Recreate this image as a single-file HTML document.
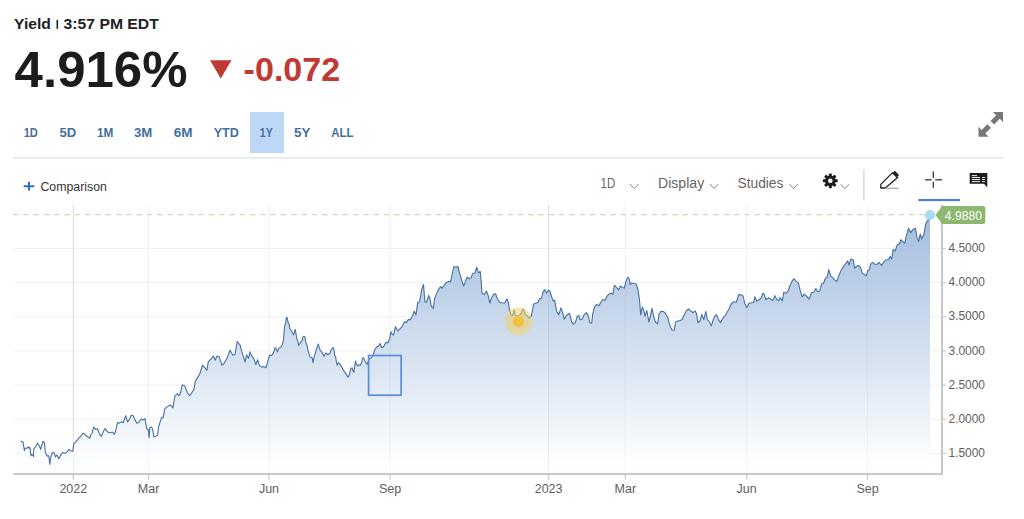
<!DOCTYPE html>
<html><head><meta charset="utf-8"><title>Yield chart</title>
<style>
html,body{margin:0;padding:0;background:#fff;width:1024px;height:519px;overflow:hidden}
svg{display:block;font-family:"Liberation Sans", sans-serif}
</style></head><body>
<svg width="1024" height="519" viewBox="0 0 1024 519">
<text x="14.1" y="28.8" font-size="14.5" font-weight="bold" fill="#222" textLength="36.8" lengthAdjust="spacingAndGlyphs">Yield</text>
<rect x="56.5" y="19.9" width="1.6" height="8.9" fill="#222"/>
<text x="63.6" y="28.8" font-size="14.5" font-weight="bold" fill="#222" textLength="95.2" lengthAdjust="spacingAndGlyphs">3:57 PM EDT</text>
<text x="14.6" y="86.9" font-size="49.5" font-weight="bold" fill="#1c1c1c" textLength="173" lengthAdjust="spacingAndGlyphs">4.916%</text>
<polygon points="210,60.3 231.5,60.3 220.75,78.6" fill="#bf3a33"/>
<text x="243.6" y="80.8" font-size="33" font-weight="bold" fill="#bf3a33" textLength="96.6" lengthAdjust="spacingAndGlyphs">-0.072</text>
<rect x="250" y="112" width="34" height="41" fill="#bdd7f6"/>
<text x="23.7" y="137" font-size="12" font-weight="bold" fill="#44709f" textLength="14.2" lengthAdjust="spacingAndGlyphs">1D</text>
<text x="59.4" y="137" font-size="12" font-weight="bold" fill="#44709f" textLength="16.8" lengthAdjust="spacingAndGlyphs">5D</text>
<text x="96.9" y="137" font-size="12" font-weight="bold" fill="#44709f" textLength="16.4" lengthAdjust="spacingAndGlyphs">1M</text>
<text x="134" y="137" font-size="12" font-weight="bold" fill="#44709f" textLength="18.3" lengthAdjust="spacingAndGlyphs">3M</text>
<text x="173.8" y="137" font-size="12" font-weight="bold" fill="#44709f" textLength="18.8" lengthAdjust="spacingAndGlyphs">6M</text>
<text x="213.7" y="137" font-size="12" font-weight="bold" fill="#44709f" textLength="25.3" lengthAdjust="spacingAndGlyphs">YTD</text>
<text x="259.8" y="137" font-size="12" font-weight="bold" fill="#44709f" textLength="12.9" lengthAdjust="spacingAndGlyphs">1Y</text>
<text x="294" y="137" font-size="12" font-weight="bold" fill="#44709f" textLength="16.5" lengthAdjust="spacingAndGlyphs">5Y</text>
<text x="331.2" y="137" font-size="12" font-weight="bold" fill="#44709f" textLength="22.3" lengthAdjust="spacingAndGlyphs">ALL</text>
<g fill="#777"><polygon points="1003,112 993,112 996.2,115.2 990.5,120.9 994.1,124.5 999.8,118.8 1003,122"/><polygon points="978.5,136.7 988.5,136.7 985.3,133.5 991,127.8 987.4,124.2 981.7,129.9 978.5,126.7"/></g>
<rect x="13" y="157" width="990.3" height="1.6" fill="#e8e8e8"/>
<rect x="23.7" y="185.3" width="10.6" height="1.9" fill="#2f66c2"/>
<rect x="28.05" y="181.8" width="1.9" height="8.7" fill="#2f66c2"/>
<text x="40.4" y="190.5" font-size="12.5" fill="#333" textLength="66.5" lengthAdjust="spacingAndGlyphs">Comparison</text>
<text x="600.6" y="187.7" font-size="14" fill="#666" textLength="14.6" lengthAdjust="spacingAndGlyphs">1D</text>
<text x="658" y="187.7" font-size="14" fill="#666" textLength="46.2" lengthAdjust="spacingAndGlyphs">Display</text>
<text x="737.5" y="187.7" font-size="14" fill="#666" textLength="45.9" lengthAdjust="spacingAndGlyphs">Studies</text>
<polyline points="630,184 634.3,188.6 638.6,184" fill="none" stroke="#8a8a8a" stroke-width="1"/>
<polyline points="710,184 714.1,188.6 718.3,184" fill="none" stroke="#8a8a8a" stroke-width="1"/>
<polyline points="789.3,184 793.6,188.6 798,184" fill="none" stroke="#8a8a8a" stroke-width="1"/>
<polyline points="840.6,184.2 844.8,188.8 849,184.2" fill="none" stroke="#8a8a8a" stroke-width="1"/>
<g fill="#1e1e1e"><rect x="828.80" y="173.40" width="3" height="4" rx="0.7" transform="rotate(0 830.3 180.8)"/><rect x="828.80" y="173.40" width="3" height="4" rx="0.7" transform="rotate(45 830.3 180.8)"/><rect x="828.80" y="173.40" width="3" height="4" rx="0.7" transform="rotate(90 830.3 180.8)"/><rect x="828.80" y="173.40" width="3" height="4" rx="0.7" transform="rotate(135 830.3 180.8)"/><rect x="828.80" y="173.40" width="3" height="4" rx="0.7" transform="rotate(180 830.3 180.8)"/><rect x="828.80" y="173.40" width="3" height="4" rx="0.7" transform="rotate(225 830.3 180.8)"/><rect x="828.80" y="173.40" width="3" height="4" rx="0.7" transform="rotate(270 830.3 180.8)"/><rect x="828.80" y="173.40" width="3" height="4" rx="0.7" transform="rotate(315 830.3 180.8)"/><circle cx="830.3" cy="180.8" r="5.4"/></g><circle cx="830.3" cy="180.8" r="2.3" fill="#fff"/>
<rect x="863.3" y="169.3" width="1.2" height="31.2" fill="#d0d0d0"/>
<path d="M880.8 184.4 L892.6 172.6 L897.6 177.6 L885.3 188 L880.8 188 Z" fill="none" stroke="#222" stroke-width="1.3" stroke-linejoin="round"/><path d="M892.3 173.3 L894.8 170.8 L899.1 175.1 L896.6 177.6 Z" fill="#222"/><rect x="885" y="187.7" width="13.5" height="1.3" fill="#aaa"/>
<g fill="#2a2a2a"><rect x="925.1" y="179.2" width="6.5" height="1.2"/><rect x="935.2" y="179.2" width="6.9" height="1.2"/><rect x="932.7" y="171.4" width="1.2" height="6.4"/><rect x="932.7" y="181.6" width="1.2" height="6.3"/></g>
<rect x="918.4" y="199" width="41.6" height="2.1" fill="#4a7fd4"/>
<path d="M969.7 172.9 H987.3 V187.6 L984 183.8 H969.7 Z" fill="#1e1e1e"/><g fill="#fff" fill-opacity="0.92"><rect x="971.8" y="175.1" width="5.2" height="1"/><rect x="971.8" y="177" width="8.3" height="1"/><rect x="982.1" y="177" width="2.8" height="1"/><rect x="971.8" y="179" width="8.3" height="1"/><rect x="982.1" y="179" width="2.8" height="1"/><rect x="971.8" y="181.1" width="8.3" height="1"/><rect x="982.1" y="181.1" width="2.8" height="1"/></g>
<rect x="14" y="247.9" width="927.6" height="1" fill="#f0f0f0"/>
<rect x="14" y="282.1" width="927.6" height="1" fill="#f0f0f0"/>
<rect x="14" y="316.2" width="927.6" height="1" fill="#f0f0f0"/>
<rect x="14" y="350.4" width="927.6" height="1" fill="#f0f0f0"/>
<rect x="14" y="384.6" width="927.6" height="1" fill="#f0f0f0"/>
<rect x="14" y="418.8" width="927.6" height="1" fill="#f0f0f0"/>
<rect x="14" y="452.9" width="927.6" height="1" fill="#f0f0f0"/>
<rect x="72.8" y="205" width="1" height="269" fill="#dcdcdc"/>
<rect x="148.1" y="205" width="1" height="269" fill="#f0f0f0"/>
<rect x="268.5" y="205" width="1" height="269" fill="#f0f0f0"/>
<rect x="389.5" y="205" width="1" height="269" fill="#f0f0f0"/>
<rect x="548.1" y="205" width="1" height="269" fill="#dcdcdc"/>
<rect x="624.8" y="205" width="1" height="269" fill="#f0f0f0"/>
<rect x="746.2" y="205" width="1" height="269" fill="#f0f0f0"/>
<rect x="867.0" y="205" width="1" height="269" fill="#f0f0f0"/>
<defs><linearGradient id="g" gradientUnits="userSpaceOnUse" x1="0" y1="214" x2="0" y2="462"><stop offset="0" stop-color="rgb(162,188,222)"/><stop offset="1" stop-color="rgb(253,254,255)"/></linearGradient></defs>
<path d="M20.6 440.9 L23.1 442.3 L24.4 450.7 L25 448.2 L26.9 448.2 L28.1 446.9 L29 448.2 L29.8 447.3 L31 455.7 L31.9 454.4 L33.5 456.3 L33.8 448.8 L35.7 446.3 L37.5 443.2 L39.4 446.3 L40.7 449.4 L42.8 441.3 L44.4 442.5 L45.3 452.6 L46.3 454.4 L47.5 456.3 L48.8 455.7 L49.8 464.4 L50.7 457.6 L52.5 452.3 L54.4 453.2 L55.3 456.9 L56.9 455.1 L58.8 458.8 L60.7 455.1 L62.6 452.6 L65.1 453.2 L66.9 452.3 L68.8 449.4 L70.7 450.7 L72.8 451.3 L73.8 443.8 L76.3 441.3 L78.2 438.8 L80.7 436.3 L83.2 433.2 L84.5 434 L87 436.3 L89.9 438.2 L90.7 435 L92 433.2 L93.8 427 L95.6 429.4 L97.5 428.8 L99.4 433.8 L101.3 436.3 L103.1 432 L105 428.6 L106.9 431.3 L108.8 432.8 L110.7 432.8 L112.5 432 L114.4 434.4 L115.7 430.7 L117.5 422.6 L119.4 423.2 L121.3 421.6 L123.2 422.8 L125.7 415.7 L127.5 421.9 L129.4 419.4 L131.3 415.3 L133.2 415.7 L135.1 420.1 L136.9 423.2 L138.8 422.3 L141.3 419.1 L143.2 420.1 L145.1 418.8 L146.6 428.8 L148.2 429.4 L149.1 437.6 L149.8 427.6 L151.3 427 L152.6 428.8 L153.8 437 L155.7 436.3 L157.6 435.1 L158.6 427 L160.1 421.9 L161.6 417.6 L163.2 417.6 L164.8 408.8 L167 406.9 L168.5 406 L170.8 405.1 L172.9 408 L174.8 396.4 L177.3 393.5 L178.7 395.7 L180.2 394.2 L182.3 384.9 L184.5 385.6 L187.4 392.8 L189.5 395.7 L191.7 392.8 L193.9 389.6 L195.3 381.2 L197.5 377.6 L199.7 374 L202.5 365.3 L204.7 367.5 L206.9 370.4 L208.3 361.7 L211.2 358.8 L213.4 356 L215.3 360.3 L217 356 L219.2 356.7 L222 365.3 L224.2 363.2 L227.1 358.1 L230 350.2 L232.9 355.2 L235 354.5 L237.2 341.5 L240.1 345.1 L241.4 350.4 L243.2 355.9 L245.1 362 L246.5 354.8 L248.4 358.4 L250.1 351.9 L251.6 355.9 L253.7 358.4 L255.9 364.6 L257.6 359.8 L259.5 365.6 L261.7 367.1 L263.8 366.6 L266 367.8 L267.7 361.3 L269.6 355.1 L271.8 355.5 L273.9 351.9 L275 347.6 L276 348.4 L277.4 351.9 L278.6 348.4 L279.8 347.6 L281.1 347.1 L282.4 344.1 L283.5 339.8 L284.1 332 L284.7 325.4 L285.6 324.1 L286.3 317.6 L287.1 317.6 L288 322 L289 323.7 L289.9 328.9 L291 330.2 L292.3 332.8 L293.4 334.7 L294.1 333.2 L295.1 329.3 L296 333.7 L296.9 338.9 L297.7 340.6 L298.6 345.4 L299.7 343.7 L301 341.9 L302.1 340.6 L302.8 337.2 L303.8 336.3 L304.9 336.7 L305.8 342.4 L306.9 344.5 L308 350.2 L309 353.6 L310 356.9 L312.2 357.7 L312.9 362.7 L314.4 356.2 L316.5 349 L318.2 343.9 L320.1 350.1 L322.2 352.6 L324 356.2 L325.8 353 L328 354.8 L330 353 L331.3 349.5 L333 347.6 L333.9 349.5 L334.8 355.6 L335.6 356.9 L336.5 362.5 L337.1 365.2 L338.2 362.7 L339.5 363.4 L340.8 365.6 L342.1 367.8 L343 369.5 L344.3 371.7 L345.6 373.4 L346.9 375.6 L348.2 377.1 L349.5 374.3 L350.8 368.6 L352.1 367.8 L353 371.2 L353.9 372.1 L354.7 366 L355.6 361.2 L356.5 364.3 L357.8 366 L359.1 364.7 L360.4 365.2 L361.4 363 L362.8 357.8 L363.8 358.6 L365.1 361.2 L366.4 363.4 L367.3 364.3 L368.6 360 L369.9 358.2 L371.6 357.8 L373.4 354.7 L374.2 351.3 L375 349.5 L376.4 347.3 L378.5 346.1 L380 343.5 L381.7 347.8 L383.6 346.8 L385.8 342.5 L387.9 342.9 L389.8 338.2 L390.8 331.7 L392.3 334.5 L393.6 335.1 L395.5 326.7 L397.9 331 L400.1 328.6 L402.3 326.4 L404.4 321.8 L406.6 322.4 L408.5 319.2 L410.2 319.9 L412.4 316.3 L414.3 311.3 L416 314.9 L417.7 302.6 L419.6 301.9 L421.5 290.3 L423.5 284.5 L424.9 301.9 L426.8 301.9 L428.7 295.4 L430.1 299 L431.2 306.2 L433.3 308.4 L434.5 299 L436.5 293.9 L438.4 289.6 L440.5 286.7 L442 288.2 L444.2 285.3 L446.3 282.4 L448.5 281.4 L450.6 281.9 L452.4 273 L453.8 266.5 L455.7 267.2 L457.9 266.5 L459.3 272.3 L461.5 279.5 L463.6 286 L465.4 281.7 L467.2 277 L469.3 278.8 L471.1 277.6 L472.5 273.7 L474.8 273 L476.8 267.2 L478.3 272.7 L480.2 271.6 L481.2 281.7 L482 293.2 L484.5 294.4 L486.4 291 L488.1 295.4 L489.8 303 L491.7 297.5 L493.6 294.4 L495.6 293.9 L497.5 299 L499.7 302.2 L502.5 303 L504.7 303 L506.9 299 L508.3 301.9 L509.8 311.3 L511.2 314.9 L512.7 315.6 L514.1 309.8 L515.5 315.6 L518.4 315.6 L520.6 314.2 L522.8 309.1 L524.2 310.5 L525.4 314.9 L527.1 315.6 L529.3 318.5 L531.4 315.6 L533.6 304 L535.8 303.3 L537.9 302.6 L539.4 299 L541.5 298.3 L542.9 292.4 L544.6 289.5 L546.5 293.1 L548.4 290.2 L549.8 290.9 L551.6 296.7 L553.3 301 L554.7 300.3 L556.6 311.2 L558.8 314.8 L560.9 307.8 L562.4 311.9 L564.3 319.1 L566 315.9 L567.7 314.5 L569.6 313.3 L571.5 321.3 L573.2 324.2 L575.4 322.3 L577.3 316.2 L578.7 315.5 L580.1 319.8 L582.2 319.1 L584 314.8 L586.2 312.6 L588.4 315.9 L589.8 322.7 L591.7 323.1 L592.7 314 L594.6 306.8 L596.6 304.4 L598.9 305.8 L600.6 302.5 L602.8 299.6 L605 300.3 L607.1 296 L609.3 293.8 L611.5 293.1 L612.9 294.3 L614.4 285.2 L616.5 287.3 L618.6 289.8 L620.5 285.9 L622.5 287.4 L624.4 288.1 L625.8 281.6 L627.7 277.3 L629.2 278.7 L630.2 284.5 L631.6 283 L633.8 283.5 L635.9 283.8 L637.8 288.8 L639.5 299.7 L640.7 314.8 L642.4 306.9 L643.9 311.2 L645 316.3 L646.8 310.5 L648.9 322 L650.4 316.3 L652 308.3 L653.7 316.3 L655.4 322 L657.6 323.9 L659 314.1 L661.2 311.2 L663.4 311.5 L665.5 313.4 L667.7 317.3 L669.9 325.6 L672 330 L674.2 330.3 L675.6 322 L677.8 321 L680 320.6 L682.1 319.6 L684.3 314.8 L686.5 310.5 L688.6 309 L690.8 310.9 L693.2 312.7 L695.1 310.9 L696.5 313.4 L697.9 322.8 L699.8 321.3 L701.8 314.4 L703.7 319.6 L705.9 311.5 L707.3 319.6 L709.5 322 L711.4 325.9 L713.1 319.9 L714.8 316.3 L716.7 314.8 L718.6 319.9 L720.6 322.8 L722.5 318.7 L724.7 316.3 L726.8 312.7 L729 309 L731.2 304 L733.3 301.8 L736.2 302.3 L738.8 294.6 L741.3 295 L743.1 296 L744.9 304 L747 307.6 L748.9 303.3 L751.4 302.8 L753.5 302.5 L755 296.8 L756.7 301.4 L759 299.7 L761 298.2 L762.9 293.2 L764.4 294.6 L765.8 299.7 L768.6 297.8 L770.8 299.2 L772.9 300.6 L774.8 295.6 L776.6 299.2 L778.7 300.6 L780.2 297.5 L782.3 300.9 L783.8 292 L785.9 293.4 L788.1 290.8 L790.3 284.8 L792.4 280.4 L794.2 278.7 L796 281.2 L798.5 283.3 L800.4 291.3 L802.3 297 L804 294.2 L806.2 295.6 L809 299.2 L811.5 292.7 L813.8 292.3 L815.8 288.4 L817.7 291.7 L819.6 291.3 L821.6 284 L823.5 283.3 L825.4 278.3 L827.1 277.3 L828.8 269.6 L830.7 276.1 L832.9 277.8 L835 280.4 L836.9 281.2 L838.6 276.1 L840.8 271 L842.3 268.2 L844.6 265.1 L847.7 260.8 L848.9 265.1 L850.8 259 L853.1 259.7 L854.7 268.2 L857 265.9 L859.3 265.9 L860.8 268.2 L862.4 273.6 L864.4 274.4 L866.2 275.9 L867.8 270.5 L869.3 269.7 L870.8 263.6 L872.7 262.4 L874.7 264.3 L877 264.3 L878.9 262.4 L881.6 265.4 L884 261.7 L886.3 259.7 L888.6 259.7 L890.1 256.6 L891.7 259 L893.2 249.4 L895.2 250.9 L897.1 245.1 L899.4 243.8 L900.9 239.7 L903.2 242 L904.8 243.2 L906.3 235.8 L908.6 228.1 L910.6 232.7 L912.8 229.7 L915.3 228.1 L917.1 237.4 L918.7 241.2 L920.2 234 L921.7 238.9 L924.1 233.5 L925.6 224.3 L927.1 221.2 L928.2 220.1 L929.5 214.2 L930 214.2 L930 473 L20.6 473 Z" fill="url(#g)"/>
<clipPath id="cp"><path d="M20.6 440.9 L23.1 442.3 L24.4 450.7 L25 448.2 L26.9 448.2 L28.1 446.9 L29 448.2 L29.8 447.3 L31 455.7 L31.9 454.4 L33.5 456.3 L33.8 448.8 L35.7 446.3 L37.5 443.2 L39.4 446.3 L40.7 449.4 L42.8 441.3 L44.4 442.5 L45.3 452.6 L46.3 454.4 L47.5 456.3 L48.8 455.7 L49.8 464.4 L50.7 457.6 L52.5 452.3 L54.4 453.2 L55.3 456.9 L56.9 455.1 L58.8 458.8 L60.7 455.1 L62.6 452.6 L65.1 453.2 L66.9 452.3 L68.8 449.4 L70.7 450.7 L72.8 451.3 L73.8 443.8 L76.3 441.3 L78.2 438.8 L80.7 436.3 L83.2 433.2 L84.5 434 L87 436.3 L89.9 438.2 L90.7 435 L92 433.2 L93.8 427 L95.6 429.4 L97.5 428.8 L99.4 433.8 L101.3 436.3 L103.1 432 L105 428.6 L106.9 431.3 L108.8 432.8 L110.7 432.8 L112.5 432 L114.4 434.4 L115.7 430.7 L117.5 422.6 L119.4 423.2 L121.3 421.6 L123.2 422.8 L125.7 415.7 L127.5 421.9 L129.4 419.4 L131.3 415.3 L133.2 415.7 L135.1 420.1 L136.9 423.2 L138.8 422.3 L141.3 419.1 L143.2 420.1 L145.1 418.8 L146.6 428.8 L148.2 429.4 L149.1 437.6 L149.8 427.6 L151.3 427 L152.6 428.8 L153.8 437 L155.7 436.3 L157.6 435.1 L158.6 427 L160.1 421.9 L161.6 417.6 L163.2 417.6 L164.8 408.8 L167 406.9 L168.5 406 L170.8 405.1 L172.9 408 L174.8 396.4 L177.3 393.5 L178.7 395.7 L180.2 394.2 L182.3 384.9 L184.5 385.6 L187.4 392.8 L189.5 395.7 L191.7 392.8 L193.9 389.6 L195.3 381.2 L197.5 377.6 L199.7 374 L202.5 365.3 L204.7 367.5 L206.9 370.4 L208.3 361.7 L211.2 358.8 L213.4 356 L215.3 360.3 L217 356 L219.2 356.7 L222 365.3 L224.2 363.2 L227.1 358.1 L230 350.2 L232.9 355.2 L235 354.5 L237.2 341.5 L240.1 345.1 L241.4 350.4 L243.2 355.9 L245.1 362 L246.5 354.8 L248.4 358.4 L250.1 351.9 L251.6 355.9 L253.7 358.4 L255.9 364.6 L257.6 359.8 L259.5 365.6 L261.7 367.1 L263.8 366.6 L266 367.8 L267.7 361.3 L269.6 355.1 L271.8 355.5 L273.9 351.9 L275 347.6 L276 348.4 L277.4 351.9 L278.6 348.4 L279.8 347.6 L281.1 347.1 L282.4 344.1 L283.5 339.8 L284.1 332 L284.7 325.4 L285.6 324.1 L286.3 317.6 L287.1 317.6 L288 322 L289 323.7 L289.9 328.9 L291 330.2 L292.3 332.8 L293.4 334.7 L294.1 333.2 L295.1 329.3 L296 333.7 L296.9 338.9 L297.7 340.6 L298.6 345.4 L299.7 343.7 L301 341.9 L302.1 340.6 L302.8 337.2 L303.8 336.3 L304.9 336.7 L305.8 342.4 L306.9 344.5 L308 350.2 L309 353.6 L310 356.9 L312.2 357.7 L312.9 362.7 L314.4 356.2 L316.5 349 L318.2 343.9 L320.1 350.1 L322.2 352.6 L324 356.2 L325.8 353 L328 354.8 L330 353 L331.3 349.5 L333 347.6 L333.9 349.5 L334.8 355.6 L335.6 356.9 L336.5 362.5 L337.1 365.2 L338.2 362.7 L339.5 363.4 L340.8 365.6 L342.1 367.8 L343 369.5 L344.3 371.7 L345.6 373.4 L346.9 375.6 L348.2 377.1 L349.5 374.3 L350.8 368.6 L352.1 367.8 L353 371.2 L353.9 372.1 L354.7 366 L355.6 361.2 L356.5 364.3 L357.8 366 L359.1 364.7 L360.4 365.2 L361.4 363 L362.8 357.8 L363.8 358.6 L365.1 361.2 L366.4 363.4 L367.3 364.3 L368.6 360 L369.9 358.2 L371.6 357.8 L373.4 354.7 L374.2 351.3 L375 349.5 L376.4 347.3 L378.5 346.1 L380 343.5 L381.7 347.8 L383.6 346.8 L385.8 342.5 L387.9 342.9 L389.8 338.2 L390.8 331.7 L392.3 334.5 L393.6 335.1 L395.5 326.7 L397.9 331 L400.1 328.6 L402.3 326.4 L404.4 321.8 L406.6 322.4 L408.5 319.2 L410.2 319.9 L412.4 316.3 L414.3 311.3 L416 314.9 L417.7 302.6 L419.6 301.9 L421.5 290.3 L423.5 284.5 L424.9 301.9 L426.8 301.9 L428.7 295.4 L430.1 299 L431.2 306.2 L433.3 308.4 L434.5 299 L436.5 293.9 L438.4 289.6 L440.5 286.7 L442 288.2 L444.2 285.3 L446.3 282.4 L448.5 281.4 L450.6 281.9 L452.4 273 L453.8 266.5 L455.7 267.2 L457.9 266.5 L459.3 272.3 L461.5 279.5 L463.6 286 L465.4 281.7 L467.2 277 L469.3 278.8 L471.1 277.6 L472.5 273.7 L474.8 273 L476.8 267.2 L478.3 272.7 L480.2 271.6 L481.2 281.7 L482 293.2 L484.5 294.4 L486.4 291 L488.1 295.4 L489.8 303 L491.7 297.5 L493.6 294.4 L495.6 293.9 L497.5 299 L499.7 302.2 L502.5 303 L504.7 303 L506.9 299 L508.3 301.9 L509.8 311.3 L511.2 314.9 L512.7 315.6 L514.1 309.8 L515.5 315.6 L518.4 315.6 L520.6 314.2 L522.8 309.1 L524.2 310.5 L525.4 314.9 L527.1 315.6 L529.3 318.5 L531.4 315.6 L533.6 304 L535.8 303.3 L537.9 302.6 L539.4 299 L541.5 298.3 L542.9 292.4 L544.6 289.5 L546.5 293.1 L548.4 290.2 L549.8 290.9 L551.6 296.7 L553.3 301 L554.7 300.3 L556.6 311.2 L558.8 314.8 L560.9 307.8 L562.4 311.9 L564.3 319.1 L566 315.9 L567.7 314.5 L569.6 313.3 L571.5 321.3 L573.2 324.2 L575.4 322.3 L577.3 316.2 L578.7 315.5 L580.1 319.8 L582.2 319.1 L584 314.8 L586.2 312.6 L588.4 315.9 L589.8 322.7 L591.7 323.1 L592.7 314 L594.6 306.8 L596.6 304.4 L598.9 305.8 L600.6 302.5 L602.8 299.6 L605 300.3 L607.1 296 L609.3 293.8 L611.5 293.1 L612.9 294.3 L614.4 285.2 L616.5 287.3 L618.6 289.8 L620.5 285.9 L622.5 287.4 L624.4 288.1 L625.8 281.6 L627.7 277.3 L629.2 278.7 L630.2 284.5 L631.6 283 L633.8 283.5 L635.9 283.8 L637.8 288.8 L639.5 299.7 L640.7 314.8 L642.4 306.9 L643.9 311.2 L645 316.3 L646.8 310.5 L648.9 322 L650.4 316.3 L652 308.3 L653.7 316.3 L655.4 322 L657.6 323.9 L659 314.1 L661.2 311.2 L663.4 311.5 L665.5 313.4 L667.7 317.3 L669.9 325.6 L672 330 L674.2 330.3 L675.6 322 L677.8 321 L680 320.6 L682.1 319.6 L684.3 314.8 L686.5 310.5 L688.6 309 L690.8 310.9 L693.2 312.7 L695.1 310.9 L696.5 313.4 L697.9 322.8 L699.8 321.3 L701.8 314.4 L703.7 319.6 L705.9 311.5 L707.3 319.6 L709.5 322 L711.4 325.9 L713.1 319.9 L714.8 316.3 L716.7 314.8 L718.6 319.9 L720.6 322.8 L722.5 318.7 L724.7 316.3 L726.8 312.7 L729 309 L731.2 304 L733.3 301.8 L736.2 302.3 L738.8 294.6 L741.3 295 L743.1 296 L744.9 304 L747 307.6 L748.9 303.3 L751.4 302.8 L753.5 302.5 L755 296.8 L756.7 301.4 L759 299.7 L761 298.2 L762.9 293.2 L764.4 294.6 L765.8 299.7 L768.6 297.8 L770.8 299.2 L772.9 300.6 L774.8 295.6 L776.6 299.2 L778.7 300.6 L780.2 297.5 L782.3 300.9 L783.8 292 L785.9 293.4 L788.1 290.8 L790.3 284.8 L792.4 280.4 L794.2 278.7 L796 281.2 L798.5 283.3 L800.4 291.3 L802.3 297 L804 294.2 L806.2 295.6 L809 299.2 L811.5 292.7 L813.8 292.3 L815.8 288.4 L817.7 291.7 L819.6 291.3 L821.6 284 L823.5 283.3 L825.4 278.3 L827.1 277.3 L828.8 269.6 L830.7 276.1 L832.9 277.8 L835 280.4 L836.9 281.2 L838.6 276.1 L840.8 271 L842.3 268.2 L844.6 265.1 L847.7 260.8 L848.9 265.1 L850.8 259 L853.1 259.7 L854.7 268.2 L857 265.9 L859.3 265.9 L860.8 268.2 L862.4 273.6 L864.4 274.4 L866.2 275.9 L867.8 270.5 L869.3 269.7 L870.8 263.6 L872.7 262.4 L874.7 264.3 L877 264.3 L878.9 262.4 L881.6 265.4 L884 261.7 L886.3 259.7 L888.6 259.7 L890.1 256.6 L891.7 259 L893.2 249.4 L895.2 250.9 L897.1 245.1 L899.4 243.8 L900.9 239.7 L903.2 242 L904.8 243.2 L906.3 235.8 L908.6 228.1 L910.6 232.7 L912.8 229.7 L915.3 228.1 L917.1 237.4 L918.7 241.2 L920.2 234 L921.7 238.9 L924.1 233.5 L925.6 224.3 L927.1 221.2 L928.2 220.1 L929.5 214.2 L930 214.2 L930 473 L20.6 473 Z"/></clipPath><g clip-path="url(#cp)">
<rect x="72.8" y="205" width="1" height="269" fill="#000" fill-opacity="0.07"/>
<rect x="148.1" y="205" width="1" height="269" fill="#000" fill-opacity="0.03"/>
<rect x="268.5" y="205" width="1" height="269" fill="#000" fill-opacity="0.03"/>
<rect x="389.5" y="205" width="1" height="269" fill="#000" fill-opacity="0.03"/>
<rect x="548.1" y="205" width="1" height="269" fill="#000" fill-opacity="0.07"/>
<rect x="624.8" y="205" width="1" height="269" fill="#000" fill-opacity="0.03"/>
<rect x="746.2" y="205" width="1" height="269" fill="#000" fill-opacity="0.03"/>
<rect x="867.0" y="205" width="1" height="269" fill="#000" fill-opacity="0.03"/>
</g>
<line x1="13" y1="214.7" x2="930" y2="214.7" stroke="#cddbc0" stroke-width="1.3" stroke-dasharray="5.5 4.8"/>
<path d="M20.6 440.9 L23.1 442.3 L24.4 450.7 L25 448.2 L26.9 448.2 L28.1 446.9 L29 448.2 L29.8 447.3 L31 455.7 L31.9 454.4 L33.5 456.3 L33.8 448.8 L35.7 446.3 L37.5 443.2 L39.4 446.3 L40.7 449.4 L42.8 441.3 L44.4 442.5 L45.3 452.6 L46.3 454.4 L47.5 456.3 L48.8 455.7 L49.8 464.4 L50.7 457.6 L52.5 452.3 L54.4 453.2 L55.3 456.9 L56.9 455.1 L58.8 458.8 L60.7 455.1 L62.6 452.6 L65.1 453.2 L66.9 452.3 L68.8 449.4 L70.7 450.7 L72.8 451.3 L73.8 443.8 L76.3 441.3 L78.2 438.8 L80.7 436.3 L83.2 433.2 L84.5 434 L87 436.3 L89.9 438.2 L90.7 435 L92 433.2 L93.8 427 L95.6 429.4 L97.5 428.8 L99.4 433.8 L101.3 436.3 L103.1 432 L105 428.6 L106.9 431.3 L108.8 432.8 L110.7 432.8 L112.5 432 L114.4 434.4 L115.7 430.7 L117.5 422.6 L119.4 423.2 L121.3 421.6 L123.2 422.8 L125.7 415.7 L127.5 421.9 L129.4 419.4 L131.3 415.3 L133.2 415.7 L135.1 420.1 L136.9 423.2 L138.8 422.3 L141.3 419.1 L143.2 420.1 L145.1 418.8 L146.6 428.8 L148.2 429.4 L149.1 437.6 L149.8 427.6 L151.3 427 L152.6 428.8 L153.8 437 L155.7 436.3 L157.6 435.1 L158.6 427 L160.1 421.9 L161.6 417.6 L163.2 417.6 L164.8 408.8 L167 406.9 L168.5 406 L170.8 405.1 L172.9 408 L174.8 396.4 L177.3 393.5 L178.7 395.7 L180.2 394.2 L182.3 384.9 L184.5 385.6 L187.4 392.8 L189.5 395.7 L191.7 392.8 L193.9 389.6 L195.3 381.2 L197.5 377.6 L199.7 374 L202.5 365.3 L204.7 367.5 L206.9 370.4 L208.3 361.7 L211.2 358.8 L213.4 356 L215.3 360.3 L217 356 L219.2 356.7 L222 365.3 L224.2 363.2 L227.1 358.1 L230 350.2 L232.9 355.2 L235 354.5 L237.2 341.5 L240.1 345.1 L241.4 350.4 L243.2 355.9 L245.1 362 L246.5 354.8 L248.4 358.4 L250.1 351.9 L251.6 355.9 L253.7 358.4 L255.9 364.6 L257.6 359.8 L259.5 365.6 L261.7 367.1 L263.8 366.6 L266 367.8 L267.7 361.3 L269.6 355.1 L271.8 355.5 L273.9 351.9 L275 347.6 L276 348.4 L277.4 351.9 L278.6 348.4 L279.8 347.6 L281.1 347.1 L282.4 344.1 L283.5 339.8 L284.1 332 L284.7 325.4 L285.6 324.1 L286.3 317.6 L287.1 317.6 L288 322 L289 323.7 L289.9 328.9 L291 330.2 L292.3 332.8 L293.4 334.7 L294.1 333.2 L295.1 329.3 L296 333.7 L296.9 338.9 L297.7 340.6 L298.6 345.4 L299.7 343.7 L301 341.9 L302.1 340.6 L302.8 337.2 L303.8 336.3 L304.9 336.7 L305.8 342.4 L306.9 344.5 L308 350.2 L309 353.6 L310 356.9 L312.2 357.7 L312.9 362.7 L314.4 356.2 L316.5 349 L318.2 343.9 L320.1 350.1 L322.2 352.6 L324 356.2 L325.8 353 L328 354.8 L330 353 L331.3 349.5 L333 347.6 L333.9 349.5 L334.8 355.6 L335.6 356.9 L336.5 362.5 L337.1 365.2 L338.2 362.7 L339.5 363.4 L340.8 365.6 L342.1 367.8 L343 369.5 L344.3 371.7 L345.6 373.4 L346.9 375.6 L348.2 377.1 L349.5 374.3 L350.8 368.6 L352.1 367.8 L353 371.2 L353.9 372.1 L354.7 366 L355.6 361.2 L356.5 364.3 L357.8 366 L359.1 364.7 L360.4 365.2 L361.4 363 L362.8 357.8 L363.8 358.6 L365.1 361.2 L366.4 363.4 L367.3 364.3 L368.6 360 L369.9 358.2 L371.6 357.8 L373.4 354.7 L374.2 351.3 L375 349.5 L376.4 347.3 L378.5 346.1 L380 343.5 L381.7 347.8 L383.6 346.8 L385.8 342.5 L387.9 342.9 L389.8 338.2 L390.8 331.7 L392.3 334.5 L393.6 335.1 L395.5 326.7 L397.9 331 L400.1 328.6 L402.3 326.4 L404.4 321.8 L406.6 322.4 L408.5 319.2 L410.2 319.9 L412.4 316.3 L414.3 311.3 L416 314.9 L417.7 302.6 L419.6 301.9 L421.5 290.3 L423.5 284.5 L424.9 301.9 L426.8 301.9 L428.7 295.4 L430.1 299 L431.2 306.2 L433.3 308.4 L434.5 299 L436.5 293.9 L438.4 289.6 L440.5 286.7 L442 288.2 L444.2 285.3 L446.3 282.4 L448.5 281.4 L450.6 281.9 L452.4 273 L453.8 266.5 L455.7 267.2 L457.9 266.5 L459.3 272.3 L461.5 279.5 L463.6 286 L465.4 281.7 L467.2 277 L469.3 278.8 L471.1 277.6 L472.5 273.7 L474.8 273 L476.8 267.2 L478.3 272.7 L480.2 271.6 L481.2 281.7 L482 293.2 L484.5 294.4 L486.4 291 L488.1 295.4 L489.8 303 L491.7 297.5 L493.6 294.4 L495.6 293.9 L497.5 299 L499.7 302.2 L502.5 303 L504.7 303 L506.9 299 L508.3 301.9 L509.8 311.3 L511.2 314.9 L512.7 315.6 L514.1 309.8 L515.5 315.6 L518.4 315.6 L520.6 314.2 L522.8 309.1 L524.2 310.5 L525.4 314.9 L527.1 315.6 L529.3 318.5 L531.4 315.6 L533.6 304 L535.8 303.3 L537.9 302.6 L539.4 299 L541.5 298.3 L542.9 292.4 L544.6 289.5 L546.5 293.1 L548.4 290.2 L549.8 290.9 L551.6 296.7 L553.3 301 L554.7 300.3 L556.6 311.2 L558.8 314.8 L560.9 307.8 L562.4 311.9 L564.3 319.1 L566 315.9 L567.7 314.5 L569.6 313.3 L571.5 321.3 L573.2 324.2 L575.4 322.3 L577.3 316.2 L578.7 315.5 L580.1 319.8 L582.2 319.1 L584 314.8 L586.2 312.6 L588.4 315.9 L589.8 322.7 L591.7 323.1 L592.7 314 L594.6 306.8 L596.6 304.4 L598.9 305.8 L600.6 302.5 L602.8 299.6 L605 300.3 L607.1 296 L609.3 293.8 L611.5 293.1 L612.9 294.3 L614.4 285.2 L616.5 287.3 L618.6 289.8 L620.5 285.9 L622.5 287.4 L624.4 288.1 L625.8 281.6 L627.7 277.3 L629.2 278.7 L630.2 284.5 L631.6 283 L633.8 283.5 L635.9 283.8 L637.8 288.8 L639.5 299.7 L640.7 314.8 L642.4 306.9 L643.9 311.2 L645 316.3 L646.8 310.5 L648.9 322 L650.4 316.3 L652 308.3 L653.7 316.3 L655.4 322 L657.6 323.9 L659 314.1 L661.2 311.2 L663.4 311.5 L665.5 313.4 L667.7 317.3 L669.9 325.6 L672 330 L674.2 330.3 L675.6 322 L677.8 321 L680 320.6 L682.1 319.6 L684.3 314.8 L686.5 310.5 L688.6 309 L690.8 310.9 L693.2 312.7 L695.1 310.9 L696.5 313.4 L697.9 322.8 L699.8 321.3 L701.8 314.4 L703.7 319.6 L705.9 311.5 L707.3 319.6 L709.5 322 L711.4 325.9 L713.1 319.9 L714.8 316.3 L716.7 314.8 L718.6 319.9 L720.6 322.8 L722.5 318.7 L724.7 316.3 L726.8 312.7 L729 309 L731.2 304 L733.3 301.8 L736.2 302.3 L738.8 294.6 L741.3 295 L743.1 296 L744.9 304 L747 307.6 L748.9 303.3 L751.4 302.8 L753.5 302.5 L755 296.8 L756.7 301.4 L759 299.7 L761 298.2 L762.9 293.2 L764.4 294.6 L765.8 299.7 L768.6 297.8 L770.8 299.2 L772.9 300.6 L774.8 295.6 L776.6 299.2 L778.7 300.6 L780.2 297.5 L782.3 300.9 L783.8 292 L785.9 293.4 L788.1 290.8 L790.3 284.8 L792.4 280.4 L794.2 278.7 L796 281.2 L798.5 283.3 L800.4 291.3 L802.3 297 L804 294.2 L806.2 295.6 L809 299.2 L811.5 292.7 L813.8 292.3 L815.8 288.4 L817.7 291.7 L819.6 291.3 L821.6 284 L823.5 283.3 L825.4 278.3 L827.1 277.3 L828.8 269.6 L830.7 276.1 L832.9 277.8 L835 280.4 L836.9 281.2 L838.6 276.1 L840.8 271 L842.3 268.2 L844.6 265.1 L847.7 260.8 L848.9 265.1 L850.8 259 L853.1 259.7 L854.7 268.2 L857 265.9 L859.3 265.9 L860.8 268.2 L862.4 273.6 L864.4 274.4 L866.2 275.9 L867.8 270.5 L869.3 269.7 L870.8 263.6 L872.7 262.4 L874.7 264.3 L877 264.3 L878.9 262.4 L881.6 265.4 L884 261.7 L886.3 259.7 L888.6 259.7 L890.1 256.6 L891.7 259 L893.2 249.4 L895.2 250.9 L897.1 245.1 L899.4 243.8 L900.9 239.7 L903.2 242 L904.8 243.2 L906.3 235.8 L908.6 228.1 L910.6 232.7 L912.8 229.7 L915.3 228.1 L917.1 237.4 L918.7 241.2 L920.2 234 L921.7 238.9 L924.1 233.5 L925.6 224.3 L927.1 221.2 L928.2 220.1 L929.5 214.2" fill="none" stroke="#4670a3" stroke-width="1.1" stroke-linejoin="round"/>
<rect x="13.5" y="473.1" width="929.4" height="1.9" fill="#c6c6c6"/>
<rect x="941.05" y="205" width="1.9" height="270" fill="#c6c6c6"/>
<rect x="72.7" y="474" width="1.2" height="5.6" fill="#c6c6c6"/>
<text x="73.3" y="492.6" font-size="12.5" fill="#5e5e5e" text-anchor="middle">2022</text>
<rect x="148.0" y="474" width="1.2" height="5.6" fill="#c6c6c6"/>
<text x="148.6" y="492.6" font-size="12.5" fill="#5e5e5e" text-anchor="middle">Mar</text>
<rect x="268.4" y="474" width="1.2" height="5.6" fill="#c6c6c6"/>
<text x="269" y="492.6" font-size="12.5" fill="#5e5e5e" text-anchor="middle">Jun</text>
<rect x="389.4" y="474" width="1.2" height="5.6" fill="#c6c6c6"/>
<text x="390" y="492.6" font-size="12.5" fill="#5e5e5e" text-anchor="middle">Sep</text>
<rect x="548.0" y="474" width="1.2" height="5.6" fill="#c6c6c6"/>
<text x="548.6" y="492.6" font-size="12.5" fill="#5e5e5e" text-anchor="middle">2023</text>
<rect x="624.7" y="474" width="1.2" height="5.6" fill="#c6c6c6"/>
<text x="625.3" y="492.6" font-size="12.5" fill="#5e5e5e" text-anchor="middle">Mar</text>
<rect x="746.1" y="474" width="1.2" height="5.6" fill="#c6c6c6"/>
<text x="746.7" y="492.6" font-size="12.5" fill="#5e5e5e" text-anchor="middle">Jun</text>
<rect x="866.9" y="474" width="1.2" height="5.6" fill="#c6c6c6"/>
<text x="867.5" y="492.6" font-size="12.5" fill="#5e5e5e" text-anchor="middle">Sep</text>
<rect x="942" y="247.8" width="3.6" height="1.2" fill="#c6c6c6"/>
<text x="948.5" y="252.1" font-size="12" fill="#5e5e5e" textLength="36.5" lengthAdjust="spacingAndGlyphs">4.5000</text>
<rect x="942" y="282.0" width="3.6" height="1.2" fill="#c6c6c6"/>
<text x="948.5" y="286.3" font-size="12" fill="#5e5e5e" textLength="36.5" lengthAdjust="spacingAndGlyphs">4.0000</text>
<rect x="942" y="316.1" width="3.6" height="1.2" fill="#c6c6c6"/>
<text x="948.5" y="320.4" font-size="12" fill="#5e5e5e" textLength="36.5" lengthAdjust="spacingAndGlyphs">3.5000</text>
<rect x="942" y="350.3" width="3.6" height="1.2" fill="#c6c6c6"/>
<text x="948.5" y="354.6" font-size="12" fill="#5e5e5e" textLength="36.5" lengthAdjust="spacingAndGlyphs">3.0000</text>
<rect x="942" y="384.5" width="3.6" height="1.2" fill="#c6c6c6"/>
<text x="948.5" y="388.8" font-size="12" fill="#5e5e5e" textLength="36.5" lengthAdjust="spacingAndGlyphs">2.5000</text>
<rect x="942" y="418.6" width="3.6" height="1.2" fill="#c6c6c6"/>
<text x="948.5" y="422.9" font-size="12" fill="#5e5e5e" textLength="36.5" lengthAdjust="spacingAndGlyphs">2.0000</text>
<rect x="942" y="452.8" width="3.6" height="1.2" fill="#c6c6c6"/>
<text x="948.5" y="457.1" font-size="12" fill="#5e5e5e" textLength="36.5" lengthAdjust="spacingAndGlyphs">1.5000</text>
<rect x="368.6" y="355.5" width="32.5" height="39.7" fill="none" stroke="#5a8de0" stroke-width="1.7"/>
<circle cx="518.4" cy="321.4" r="13.8" fill="#f3d46a" fill-opacity="0.55"/><circle cx="518.4" cy="321.4" r="6.2" fill="#f4c646" fill-opacity="0.6"/><circle cx="518.4" cy="321.4" r="5" fill="#f4c13f"/>
<circle cx="930" cy="215" r="5.1" fill="#a9dbf6"/>
<path d="M935.4 215 L940.5 208.5 Q940.5 206.1 943 206.1 H982.8 Q985.3 206.1 985.3 208.6 V221.5 Q985.3 224 982.8 224 H943 Q940.5 224 940.5 221.5 Z" fill="#8cb870"/>
<text x="944.8" y="219.6" font-size="12" fill="#fff" textLength="37.1" lengthAdjust="spacingAndGlyphs">4.9880</text>
</svg>
</body></html>
